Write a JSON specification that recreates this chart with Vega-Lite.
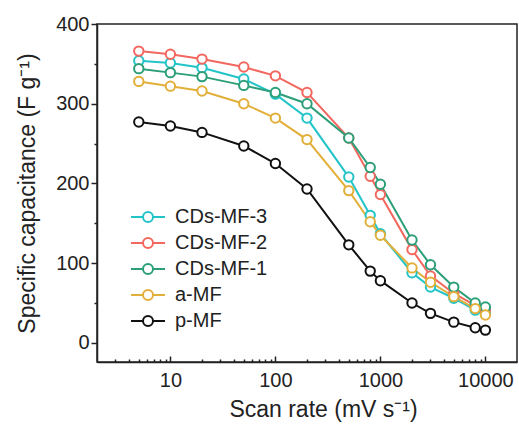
{
  "$schema": "https://vega.github.io/schema/vega-lite/v6.json",
  "width": 420,
  "height": 338,
  "autosize": {"type": "none"},
  "padding": {"left": 97, "top": 24, "right": 2, "bottom": 68},
  "data": {
    "values": [
      {"rate": 5, "s": "CDs-MF-3", "c": 354}, {"rate": 10, "s": "CDs-MF-3", "c": 351}, {"rate": 20, "s": "CDs-MF-3", "c": 345}, {"rate": 50, "s": "CDs-MF-3", "c": 331}, {"rate": 100, "s": "CDs-MF-3", "c": 312}, {"rate": 200, "s": "CDs-MF-3", "c": 282}, {"rate": 500, "s": "CDs-MF-3", "c": 208}, {"rate": 800, "s": "CDs-MF-3", "c": 160}, {"rate": 1000, "s": "CDs-MF-3", "c": 137}, {"rate": 2000, "s": "CDs-MF-3", "c": 88}, {"rate": 3000, "s": "CDs-MF-3", "c": 70}, {"rate": 5000, "s": "CDs-MF-3", "c": 56}, {"rate": 8000, "s": "CDs-MF-3", "c": 41}, {"rate": 10000, "s": "CDs-MF-3", "c": 37},
      {"rate": 5, "s": "CDs-MF-2", "c": 366}, {"rate": 10, "s": "CDs-MF-2", "c": 362}, {"rate": 20, "s": "CDs-MF-2", "c": 356}, {"rate": 50, "s": "CDs-MF-2", "c": 346}, {"rate": 100, "s": "CDs-MF-2", "c": 335}, {"rate": 200, "s": "CDs-MF-2", "c": 314}, {"rate": 500, "s": "CDs-MF-2", "c": 257}, {"rate": 800, "s": "CDs-MF-2", "c": 209}, {"rate": 1000, "s": "CDs-MF-2", "c": 186}, {"rate": 2000, "s": "CDs-MF-2", "c": 117}, {"rate": 3000, "s": "CDs-MF-2", "c": 84}, {"rate": 5000, "s": "CDs-MF-2", "c": 62}, {"rate": 8000, "s": "CDs-MF-2", "c": 47}, {"rate": 10000, "s": "CDs-MF-2", "c": 42},
      {"rate": 5, "s": "CDs-MF-1", "c": 344}, {"rate": 10, "s": "CDs-MF-1", "c": 339}, {"rate": 20, "s": "CDs-MF-1", "c": 334}, {"rate": 50, "s": "CDs-MF-1", "c": 323}, {"rate": 100, "s": "CDs-MF-1", "c": 314}, {"rate": 200, "s": "CDs-MF-1", "c": 300}, {"rate": 500, "s": "CDs-MF-1", "c": 257}, {"rate": 800, "s": "CDs-MF-1", "c": 220}, {"rate": 1000, "s": "CDs-MF-1", "c": 199}, {"rate": 2000, "s": "CDs-MF-1", "c": 129}, {"rate": 3000, "s": "CDs-MF-1", "c": 98}, {"rate": 5000, "s": "CDs-MF-1", "c": 70}, {"rate": 8000, "s": "CDs-MF-1", "c": 50}, {"rate": 10000, "s": "CDs-MF-1", "c": 45},
      {"rate": 5, "s": "a-MF", "c": 328}, {"rate": 10, "s": "a-MF", "c": 322}, {"rate": 20, "s": "a-MF", "c": 316}, {"rate": 50, "s": "a-MF", "c": 300}, {"rate": 100, "s": "a-MF", "c": 282}, {"rate": 200, "s": "a-MF", "c": 255}, {"rate": 500, "s": "a-MF", "c": 191}, {"rate": 800, "s": "a-MF", "c": 152}, {"rate": 1000, "s": "a-MF", "c": 135}, {"rate": 2000, "s": "a-MF", "c": 94}, {"rate": 3000, "s": "a-MF", "c": 76}, {"rate": 5000, "s": "a-MF", "c": 58}, {"rate": 8000, "s": "a-MF", "c": 43}, {"rate": 10000, "s": "a-MF", "c": 35},
      {"rate": 5, "s": "p-MF", "c": 277}, {"rate": 10, "s": "p-MF", "c": 272}, {"rate": 20, "s": "p-MF", "c": 264}, {"rate": 50, "s": "p-MF", "c": 247}, {"rate": 100, "s": "p-MF", "c": 225}, {"rate": 200, "s": "p-MF", "c": 193}, {"rate": 500, "s": "p-MF", "c": 123}, {"rate": 800, "s": "p-MF", "c": 90}, {"rate": 1000, "s": "p-MF", "c": 78}, {"rate": 2000, "s": "p-MF", "c": 50}, {"rate": 3000, "s": "p-MF", "c": 37}, {"rate": 5000, "s": "p-MF", "c": 26}, {"rate": 8000, "s": "p-MF", "c": 19}, {"rate": 10000, "s": "p-MF", "c": 16}
    ]
  },
  "layer": [
    {
      "mark": {"type": "line", "strokeWidth": 2},
      "encoding": {
        "x": {
          "field": "rate", "type": "quantitative",
          "scale": {"type": "log", "domain": [2, 20000], "nice": false},
          "axis": {"values": [10, 100, 1000, 10000], "format": "d", "tickSize": -6, "labelPadding": 14, "labelFlush": false, "title": "Scan rate (mV s⁻¹)", "titlePadding": 8, "titleX": 226}
        },
        "y": {
          "field": "c", "type": "quantitative",
          "scale": {"domain": [-24, 400], "nice": false, "zero": false},
          "axis": {"values": [0, 100, 200, 300, 400], "tickSize": 6, "labelPadding": 2, "title": "Specific capacitance (F g⁻¹)", "titlePadding": 16}
        },
        "color": {
          "field": "s", "type": "nominal",
          "scale": {"domain": ["CDs-MF-3", "CDs-MF-2", "CDs-MF-1", "a-MF", "p-MF"], "range": ["#22c4c8", "#f2675e", "#2c9f78", "#e2b03a", "#111111"]},
          "legend": {"title": null, "orient": "none", "legendX": 41, "legendY": 183, "symbolType": "M-3.4,0L-1,0M1,0L3.4,0M1,0A1,1 0 1 1 -1,0A1,1 0 1 1 1,0Z", "symbolSize": 100, "symbolStrokeWidth": 2, "symbolFillColor": "white", "labelOffset": 17, "rowPadding": 6, "padding": 0, "labelFontSize": 20, "labelFont": "Liberation Sans", "labelColor": "#222"}
        },
        "order": {"field": "rate", "type": "quantitative"}
      }
    },
    {
      "mark": {"type": "point", "filled": false, "fill": "white", "size": 88, "strokeWidth": 2, "opacity": 1},
      "encoding": {
        "x": {
          "field": "rate", "type": "quantitative",
          "scale": {"type": "log", "domain": [2, 20000], "nice": false},
          "axis": {"orient": "bottom", "values": [3, 4, 5, 6, 7, 8, 9, 20, 30, 40, 50, 60, 70, 80, 90, 200, 300, 400, 500, 600, 700, 800, 900, 2000, 3000, 4000, 5000, 6000, 7000, 8000, 9000], "tickSize": -3, "labels": false, "domain": false, "title": null}
        },
        "y": {
          "field": "c", "type": "quantitative",
          "scale": {"domain": [-24, 400], "nice": false, "zero": false},
          "axis": {"orient": "left", "values": [50, 150, 250, 350], "tickSize": 3, "labels": false, "domain": false, "title": null}
        },
        "color": {
          "field": "s", "type": "nominal",
          "scale": {"domain": ["CDs-MF-3", "CDs-MF-2", "CDs-MF-1", "a-MF", "p-MF"], "range": ["#22c4c8", "#f2675e", "#2c9f78", "#e2b03a", "#111111"]},
          "legend": {"title": null, "orient": "none", "legendX": 41, "legendY": 183, "symbolType": "M-3.4,0L-1,0M1,0L3.4,0M1,0A1,1 0 1 1 -1,0A1,1 0 1 1 1,0Z", "symbolSize": 100, "symbolStrokeWidth": 2, "symbolFillColor": "white", "labelOffset": 17, "rowPadding": 6, "padding": 0, "labelFontSize": 20, "labelFont": "Liberation Sans", "labelColor": "#222"}
        }
      }
    }
  ],
  "resolve": {"axis": {"x": "independent", "y": "independent"}},
  "config": {
    "view": {"stroke": "#222", "strokeWidth": 1.5},
    "axis": {"grid": false, "labelFont": "Liberation Sans", "titleFont": "Liberation Sans", "labelFontSize": 20, "titleFontSize": 23, "titleFontWeight": "normal", "labelColor": "#222", "titleColor": "#222", "domainColor": "#222", "tickColor": "#222", "domainWidth": 1.5, "tickWidth": 1.5}
  }
}
